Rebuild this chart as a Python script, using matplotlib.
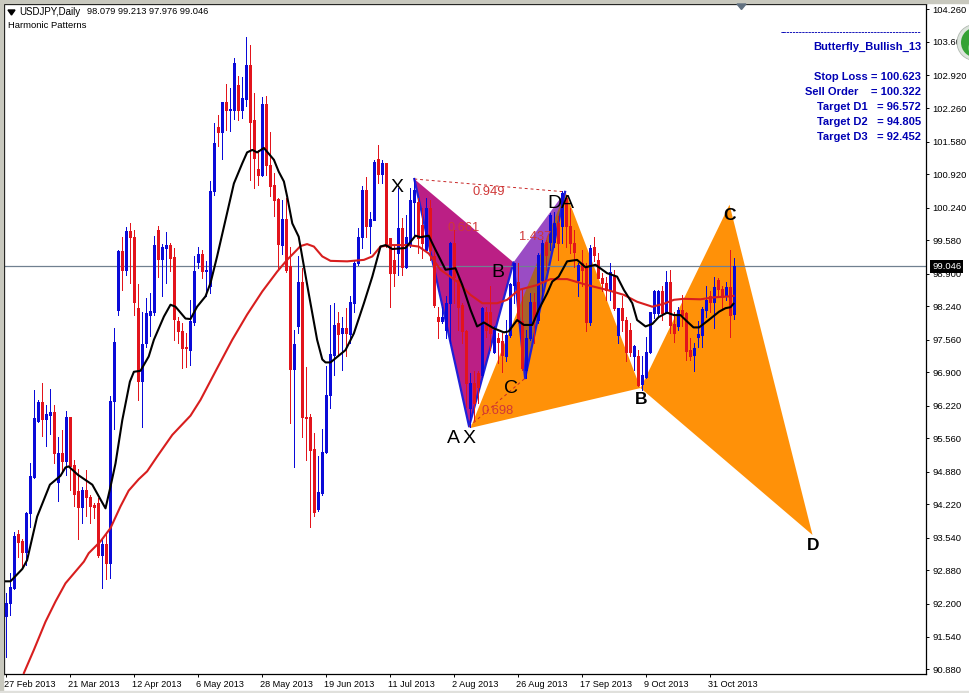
import matplotlib
matplotlib.use('Agg')
import matplotlib.pyplot as plt
from matplotlib.patches import Polygon, Circle, Rectangle
from matplotlib.transforms import ScaledTranslation

opens = [91.95,92.22,92.52,93.62,93.47,93.26,94.04,94.78,95.92,96.30,
    95.96,96.04,96.10,94.68,95.26,95.11,95.99,95.02,94.50,94.16,
    94.51,94.37,94.20,94.24,93.20,93.42,93.03,96.31,98.17,99.35,
    98.98,99.76,99.64,98.20,96.73,97.50,98.07,98.13,99.79,99.20,
    99.43,99.48,99.23,97.93,97.74,97.42,97.35,97.91,99.13,99.30,
    98.96,98.64,100.57,101.87,101.78,102.39,102.21,102.22,102.73,102.22,
    102.45,103.14,102.01,101.03,100.91,102.34,101.11,100.69,100.42,99.48,
    100.01,99.05,96.97,97.83,98.74,96.00,96.00,95.34,94.12,94.45,
    95.29,96.44,97.25,97.90,97.69,97.79,97.68,98.30,99.11,99.64,
    100.60,99.86,99.99,101.22,100.92,101.14,99.62,99.17,99.31,99.82,
    99.03,99.48,100.36,100.36,99.89,99.38,100.23,99.25,98.03,97.93,
    97.76,98.30,99.53,98.77,98.27,97.73,96.17,96.68,96.88,96.85,
    98.13,98.13,97.32,97.59,97.54,97.22,97.66,98.67,98.74,97.93,
    96.95,97.59,98.33,97.96,98.77,99.55,99.55,99.55,99.92,99.86,
    100.43,99.86,99.52,98.77,99.11,99.04,97.91,99.45,99.18,98.81,
    98.72,98.57,98.86,97.66,98.20,97.96,97.76,97.22,97.22,96.67,
    96.81,97.31,98.11,98.11,98.55,98.11,98.74,97.88,97.83,98.17,
    98.10,97.35,97.25,97.62,97.66,98.17,98.44,98.33,98.77,98.58,98.44,98.62,98.079]
highs = [92.42,92.82,93.67,93.70,93.51,94.07,95.05,96.54,96.34,96.68,
    96.24,96.56,96.24,95.58,95.73,96.12,95.99,95.12,94.93,94.58,
    94.91,94.41,94.24,94.35,93.53,93.67,96.41,97.79,99.38,99.64,
    99.84,99.92,99.79,98.69,98.13,98.40,98.50,99.67,99.86,99.50,
    99.74,99.53,99.42,98.03,97.90,97.69,98.37,99.25,99.44,99.38,
    99.15,100.77,101.95,102.12,102.39,102.75,102.66,103.27,102.90,102.89,
    103.70,103.54,102.56,101.41,102.48,102.51,101.78,100.94,100.43,100.40,
    100.43,99.45,97.76,99.26,99.01,97.00,96.06,95.66,95.20,95.75,
    97.02,98.27,98.30,98.13,98.03,98.20,98.44,99.18,99.82,100.67,
    100.87,100.16,101.21,101.51,101.21,101.14,99.62,99.48,100.63,100.02,
    100.09,100.63,100.84,100.43,100.23,100.43,100.40,99.45,98.23,98.23,
    98.44,99.55,99.79,98.84,98.30,97.76,96.88,96.92,96.92,98.23,
    98.23,98.64,97.83,97.69,97.69,97.96,98.71,99.11,99.11,98.57,
    97.76,98.50,98.50,99.31,99.58,99.58,100.13,100.16,100.06,100.57,
    100.50,100.23,99.79,99.11,99.38,99.11,99.48,99.64,99.31,98.91,
    98.84,99.11,98.98,98.20,98.44,98.03,97.89,97.46,97.35,97.22,
    97.61,98.12,98.57,98.57,98.64,98.96,98.98,98.13,98.23,98.47,
    98.13,97.59,97.49,97.93,98.23,98.65,98.54,98.83,98.81,98.65,98.74,99.38,99.213]
lows = [91.13,91.98,92.50,93.16,92.93,92.99,93.77,94.75,95.90,95.61,
    95.41,95.65,95.05,94.28,94.89,94.82,94.51,94.18,93.51,93.84,
    93.99,93.85,93.94,93.15,92.53,92.70,92.72,95.74,98.07,98.56,
    98.88,98.71,98.07,96.33,95.80,97.42,97.63,98.07,98.84,98.45,
    98.71,98.96,97.56,97.49,96.98,97.00,97.05,97.86,99.01,98.81,
    98.44,98.50,100.50,101.48,101.22,101.82,101.80,102.03,102.01,102.05,
    102.30,100.80,100.63,100.70,100.88,100.90,100.47,100.06,99.01,99.30,
    98.94,95.88,94.97,97.69,95.58,95.12,93.77,93.98,94.08,94.41,
    95.26,96.17,96.85,97.22,96.95,97.22,97.49,98.13,99.08,99.42,
    99.65,99.31,99.98,100.73,100.73,99.45,98.23,98.64,98.88,98.88,
    99.01,99.45,99.69,99.31,99.21,99.35,99.18,98.23,97.59,97.89,
    97.59,97.49,98.30,97.76,97.49,96.20,95.80,95.93,96.27,96.81,
    97.62,97.35,97.29,97.08,96.91,97.12,97.62,98.30,97.89,96.95,
    96.78,97.56,97.49,97.89,98.37,98.98,99.38,99.45,99.18,99.52,
    99.45,99.31,99.04,98.44,98.64,97.73,97.86,99.15,98.81,98.54,
    98.37,98.37,98.17,97.49,97.73,97.12,97.22,96.95,96.62,96.54,
    96.78,97.29,98.00,98.03,97.96,98.10,97.70,97.52,97.75,97.83,
    97.14,97.14,96.92,97.42,97.42,98.03,98.13,97.79,98.47,98.20,98.37,97.61,97.976]
closes = [92.22,92.55,93.57,93.45,93.26,94.04,94.80,95.97,96.30,95.96,
    96.06,96.10,95.26,95.26,95.11,95.99,94.99,94.43,94.16,94.51,
    94.36,94.18,94.16,93.20,93.42,93.03,96.32,97.52,99.35,98.98,
    99.76,99.64,98.32,96.73,97.48,98.10,98.15,99.48,99.20,99.44,
    99.48,99.21,97.99,97.73,97.40,97.39,97.93,98.96,99.30,98.96,
    98.98,100.57,101.55,101.78,102.39,102.21,102.24,103.18,102.22,102.46,
    103.14,101.98,101.24,100.91,102.34,101.11,100.68,100.40,99.50,100.01,
    98.98,96.97,97.48,98.74,95.99,95.98,95.33,94.06,94.48,95.29,
    96.44,97.27,97.86,97.68,97.79,97.69,98.33,99.11,99.64,100.60,
    99.86,100.00,101.17,100.92,101.14,99.48,98.91,98.91,99.82,99.04,
    99.65,100.40,100.60,99.62,99.52,100.23,99.38,98.27,97.93,98.02,
    98.30,99.53,98.84,98.23,97.73,96.68,96.68,96.27,96.61,98.20,
    97.76,97.69,97.76,97.52,97.25,97.66,98.69,99.11,97.93,96.98,
    97.59,98.33,97.96,99.28,99.53,99.28,100.09,99.92,99.52,100.53,
    99.86,99.52,99.33,99.08,98.98,97.91,99.42,99.28,98.81,98.71,
    98.57,98.94,98.20,98.20,97.96,97.32,97.32,97.44,96.64,96.85,
    97.31,98.12,98.55,98.55,98.11,98.74,97.86,97.69,98.17,98.06,
    97.34,97.24,97.39,97.68,98.18,98.37,98.33,98.62,98.58,98.42,98.62,98.06,99.046]

black_idx = [0,1.25,4.2,5.4,7.9,11.1,13.75,15,15.8,18.1,21.7,23.75,25,26.25,27.5,29.2,31.1,32.1,33.75,35.8,
    37.1,39.6,41.25,42.5,45,46.25,47.9,50,51.25,52.9,55,57.1,59.2,60.4,61.7,62.9,64.6,67.1,68.3,69.6,
    70.4,71.7,73.3,75.8,77.9,79.2,80,81.25,85,87.1,89.6,91.7,93.75,95,96.7,100,102.5,103.75,105.8,107.1,
    110,112.5,114.2,116.25,117.9,119.6,122.1,124.6,125.8,127.9,129.6,131.7,133.3,135.4,136.7,138.3,140.4,142.9,145,147.5,
    150.4,152.9,154.6,156.7,157.9,160,161.7,163.3,165.4,167.1,168.75,170.4,172,173.4,175.8,178.4,180,181.25,182]
black_ma = [92.66,92.66,92.91,93.09,93.97,94.62,94.80,94.97,94.99,94.82,94.62,94.32,94.14,94.58,95.05,95.93,96.71,96.91,96.93,97.22,
    97.56,98.03,98.27,98.23,97.99,97.98,98.23,98.44,98.71,99.25,99.99,100.73,101.14,101.36,101.41,101.36,101.45,101.21,100.97,100.77,
    100.47,99.92,99.65,98.50,97.56,97.16,97.10,97.10,97.35,97.69,98.30,98.84,99.45,99.48,99.40,99.42,99.67,99.64,99.67,99.45,
    98.98,99.01,98.67,98.17,97.83,97.91,97.79,97.71,97.73,97.96,97.86,97.86,98.17,98.50,98.74,98.84,99.15,99.18,99.03,99.08,
    98.91,98.84,98.57,98.30,97.96,97.83,97.88,98.02,98.11,98.06,98.06,97.93,97.81,97.81,97.96,98.13,98.20,98.22,98.29]
red_idx = [4.6,7.1,10,12.5,15,19.6,20.8,23.75,26.25,28.75,30.8,33.3,35.4,37.9,41.7,46.25,48.75,52.9,56.7,60.4,
    64.2,67.9,70.4,72.1,73.75,75.4,77.1,79.2,81.25,85.4,89.6,91.7,93.75,96.7,100.4,103.3,105.8,108.75,112.9,116.25,
    119.2,122.9,125.4,128.3,132.9,136.25,140.4,145.4,150.4,154.6,157.9,161.7,164.6,167.1,169.6,173.75,177.1,181.25,182]
red_ma = [90.80,91.27,91.84,92.25,92.62,93.06,93.23,93.47,93.74,94.18,94.50,94.73,94.89,95.19,95.63,96.02,96.34,96.98,97.56,98.07,
    98.54,98.94,99.18,99.32,99.46,99.50,99.45,99.25,99.16,99.15,99.18,99.25,99.45,99.48,99.48,99.45,99.31,98.98,98.74,98.47,
    98.30,98.30,98.37,98.57,98.67,98.79,98.79,98.67,98.57,98.47,98.33,98.23,98.29,98.37,98.39,98.38,98.42,98.44,98.45]

# pattern points as (bar, price)
purple_idx = [102.2, 115.9, 127, 129.9, 139.9]
purple_px = [100.82, 95.80, 99.13, 96.78, 100.56]
orange_idx = [116.25, 140, 158.75, 181, 201.75]
orange_px = [95.77, 100.56, 96.58, 100.30, 93.60]

ytick_vals = [104.26,103.60,102.92,102.26,101.58,100.92,100.24,99.58,98.90,98.24,97.56,
    96.90,96.22,95.56,94.88,94.22,93.54,92.88,92.20,91.54,90.88]
date_labels = ['27 Feb 2013','21 Mar 2013','12 Apr 2013','6 May 2013','28 May 2013','19 Jun 2013',
    '11 Jul 2013','2 Aug 2013','26 Aug 2013','17 Sep 2013','9 Oct 2013','31 Oct 2013']
info_lines = ['Butterfly_Bullish_13', '', 'Stop Loss = 100.623', 'Sell Order    = 100.322',
    'Target D1   = 96.572', 'Target D2   = 94.805', 'Target D3   = 92.452']
last_price = 99.046

W, H = 969, 693
BLUE = '#0A0AD8'
RED = '#E2141C'
plt.rcParams['font.family'] = ['Liberation Sans', 'DejaVu Sans']

fig = plt.figure(figsize=(W / 100, H / 100), dpi=100, facecolor='white')
ax = fig.add_axes([4 / W, 1 - 673.5 / H, 922 / W, 669.5 / H])
ax.set_xlim(-0.375, 230.125)
ax.set_ylim(90.79, 104.37)

# window frame
fig.patches.append(Rectangle((0, 1 - 3 / H), 1, 3 / H, transform=fig.transFigure, color='#C8C8BE'))
fig.patches.append(Rectangle((0, 0), 3 / W, 1, transform=fig.transFigure, color='#C8C8BE'))
fig.patches.append(Rectangle((0, 0), 1, 2 / H, transform=fig.transFigure, color='#E0E0DC'))

# harmonic pattern triangles
def tri(xs, ys, a, b, c):
    return [(xs[a], ys[a]), (xs[b], ys[b]), (xs[c], ys[c])]

ax.add_patch(Polygon(tri(orange_idx, orange_px, 0, 1, 2), fc='#FF9108', ec='none', zorder=1))
ax.add_patch(Polygon(tri(orange_idx, orange_px, 2, 3, 4), fc='#FF9108', ec='none', zorder=1))
ax.add_patch(Polygon(tri(purple_idx, purple_px, 0, 1, 2), fc='#BB1F85', ec='none', zorder=1.1))
violet = Polygon(tri(purple_idx, purple_px, 2, 3, 4), fc='#9A4CC4', ec='none', zorder=1.1)
ax.add_patch(violet)
overlap = Polygon(tri(orange_idx, orange_px, 0, 1, 2), fc='#A8622C', ec='none', zorder=1.2)
ax.add_patch(overlap)
overlap.set_clip_path(violet)
ax.plot(purple_idx, purple_px, color='#2020D8', lw=1.6, zorder=1.3)

# ratio lines
ax.plot([purple_idx[0], purple_idx[4]], [purple_px[0], purple_px[4]], color='#C82828', lw=0.7, ls=(0, (3, 3)), zorder=1.4)
ax.plot([purple_idx[1], purple_idx[3]], [purple_px[1], purple_px[3]], color='#C82828', lw=0.7, ls=(0, (3, 3)), zorder=1.4)

ax.axhline(last_price, color='#708090', lw=0.9, zorder=1.5)

# candles: 1px wick, 3px body, no antialias like the terminal draws them
for i in range(len(opens)):
    col = BLUE if closes[i] >= opens[i] else RED
    ax.vlines(i, lows[i], highs[i], color=col, lw=0.72, zorder=3, antialiased=False)
    ax.vlines(i, min(opens[i], closes[i]), max(opens[i], closes[i], min(opens[i], closes[i]) + 0.02),
              color=col, lw=1.8, zorder=3, capstyle='butt', antialiased=False)

ax.plot(red_idx, red_ma, color='#D81E1E', lw=1.5, zorder=4)
ax.plot(black_idx, black_ma, color='black', lw=1.5, zorder=4.1)

# ratio and point labels, placed next to the pattern points
ratio_col = '#D03838'
ax.text(120.75, 100.56, '0.949', color=ratio_col, fontsize=9.3, ha='center', va='center', zorder=5)
ax.text(114.5, 99.82, '0.661', color=ratio_col, fontsize=9.3, ha='center', va='center', zorder=5)
ax.text(132.5, 99.65, '1.437', color=ratio_col, fontsize=9.3, ha='center', va='center', zorder=5)
ax.text(123, 96.12, '0.698', color=ratio_col, fontsize=9.3, ha='center', va='center', zorder=5)

for txt, xp, yp in [('X', 98, 100.64), ('B', 123, 98.92), ('D', 137.2, 100.33), ('A', 140.5, 100.33),
                    ('A', 112, 95.56), ('X', 115.8, 95.56), ('C', 126.3, 96.58)]:
    ax.text(xp, yp, txt, color='black', fontsize=14, ha='center', va='center', zorder=5)
for txt, xp, yp in [('B', 158.8, 96.34), ('C', 181, 100.09), ('D', 201.8, 93.38)]:
    ax.text(xp, yp, txt, color='black', fontsize=12.5, fontweight='bold', ha='center', va='center', zorder=5)

# axes
for side in ['top', 'left', 'right', 'bottom']:
    ax.spines[side].set_linewidth(0.9)
ax.yaxis.tick_right()
ax.set_yticks(ytick_vals)
ax.set_yticklabels(['%.3f' % v for v in ytick_vals], fontsize=6.8)
ax.set_xticks([16 * k for k in range(len(date_labels))])
ax.set_xticklabels(date_labels, fontsize=6.55, ha='left')
ax.tick_params(axis='y', length=2.5, width=0.7, pad=2)
ax.tick_params(axis='x', length=2.5, width=0.7, pad=2)
for lab in ax.get_xticklabels():
    lab.set_transform(lab.get_transform() + ScaledTranslation(-1 / 100, 0, fig.dpi_scale_trans))

# last price tag
ax.text(1.0 + 6 / 922, last_price, '99.046', transform=ax.get_yaxis_transform(), color='white', fontsize=6.8,
        ha='left', va='center', zorder=6, clip_on=False,
        bbox=dict(boxstyle='square,pad=0.22', fc='black', ec='none'))

# header text
fig.text(19.5 / W, 1 - 12 / H, 'USDJPY,Daily', fontsize=7.0, color='black', ha='left', va='center')
fig.text(87 / W, 1 - 12 / H, '98.079 99.213 97.976 99.046', fontsize=6.65, color='black', ha='left', va='center')
fig.text(8.5 / W, 1 - 25.5 / H, 'Harmonic Patterns', fontsize=6.8, color='black', ha='left', va='center')
fig.patches.append(Polygon([(8 / W, 1 - 10 / H), (15 / W, 1 - 10 / H), (11.5 / W, 1 - 15 / H)],
                           transform=fig.transFigure, color='black'))
fig.patches.append(Polygon([(737 / W, 1 - 4 / H), (746 / W, 1 - 4 / H), (741.5 / W, 1 - 9.5 / H)],
                           transform=fig.transFigure, color='#607080', zorder=7))

# info block
fig.text(921 / W, 1 - 33 / H, '-' * 45, fontsize=6.6, color='#0000B4', ha='right', va='center', fontweight='bold')
info_y = [47, 62, 77, 92, 107, 122, 137]
for line, yp in zip(info_lines, info_y):
    fig.text(921 / W, 1 - yp / H, line, fontsize=8, color='#0000B4', ha='right', va='center', fontweight='bold')

# green button
fig.patches.append(Circle((975, H - 42.5), 18, transform=None, fc='#DCE4DC', ec='#B0B8B0', lw=0.6, zorder=8))
fig.patches.append(Circle((976, H - 42.5), 15, transform=None, fc='#34A234', ec='none', zorder=9))
fig.patches.append(Circle((975, H - 48), 7, transform=None, fc='#66C466', ec='none', zorder=10))

fig.savefig('out.png', dpi=100, facecolor='white')
